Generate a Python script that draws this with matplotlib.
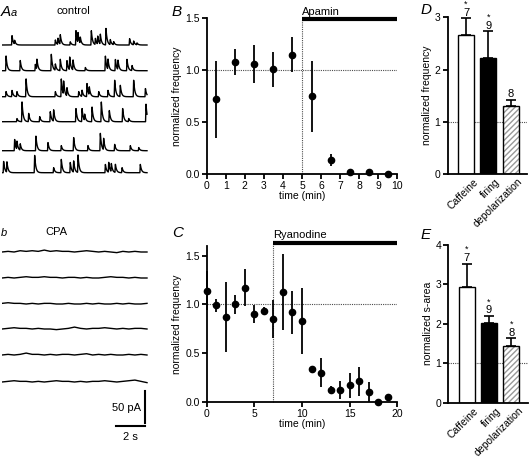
import numpy as np
import matplotlib
matplotlib.use("Agg")
import matplotlib.pyplot as plt
import matplotlib.transforms as mtransforms

plt.rcParams['font.family'] = ['Liberation Sans', 'DejaVu Sans']

# ---- data ----
# A a: spontaneous currents (control), spike times (s) and amplitudes (pA) per sweep
ctrl_times = [
    [0.69, 0.87, 3.68, 3.86, 4.02, 4.71, 5.10, 5.24, 5.40, 6.16, 6.44, 6.60, 6.78, 7.17, 7.47, 7.70, 8.80, 9.08, 9.31],
    [0.28, 1.26, 2.30, 2.41, 3.40, 3.68, 4.02, 4.48, 4.67, 4.90, 5.75, 7.13, 7.31, 7.82, 8.00, 8.62, 8.97],
    [0.28, 0.69, 1.03, 1.66, 3.68, 4.09, 4.25, 4.48, 5.29, 5.52, 5.86, 6.02, 6.67, 7.31, 7.77, 8.16, 9.08, 9.89],
    [1.03, 1.38, 1.84, 2.60, 3.33, 3.56, 5.10, 5.52, 5.70, 6.21, 6.85, 7.40, 8.32, 8.74, 9.93],
    [0.87, 1.03, 1.26, 2.34, 3.17, 4.09, 4.94, 5.93, 6.78, 7.01, 7.77, 8.85, 9.43],
    [0.11, 0.34, 2.25, 3.56, 4.09, 4.71, 4.94, 5.24, 7.13, 7.36, 7.54, 7.82, 8.28, 9.54],
]
ctrl_amps = [
    [15, 6, 8, 10, 15, 5, 23, 16, 10, 23, 10, 13, 16, 26, 8, 5, 10, 6, 3],
    [23, 16, 10, 16, 26, 10, 18, 16, 20, 16, 5, 23, 16, 18, 15, 18, 8],
    [8, 10, 8, 28, 8, 28, 21, 13, 8, 10, 21, 13, 8, 10, 26, 18, 26, 13],
    [5, 31, 13, 8, 16, 18, 21, 21, 10, 23, 31, 18, 21, 5, 28],
    [18, 13, 10, 23, 13, 8, 21, 8, 28, 18, 10, 8, 5],
    [18, 16, 28, 8, 21, 16, 18, 28, 13, 16, 13, 13, 8, 13],
]
# A b: CPA sweeps, small baseline deflections (pA)
cpa_sweeps = [
    [0, 1, 0, 2, 1, 2, 1, 3, 1, 2, 1, 1, 0, 1, 2, 1, 0, 1, 0, -1, 1, 0, 1, 0, 0],
    [0, 1, 0, 1, 2, 1, 1, 2, 1, 1, 0, 1, 1, 0, 1, 0, 0, 1, 2, 1, 1, 0, 1, 0, 0],
    [1, 2, 1, 1, 0, 1, 0, 1, 1, 0, 0, 1, 0, 0, 1, 0, 1, 0, 0, 1, 0, 1, 0, 0, 1],
    [0, 1, 2, 1, 1, 0, 1, 0, 0, -1, 0, 1, 3, 1, 0, 1, 1, 2, 1, 0, 1, 0, 1, 1, 0],
    [0, 1, 0, 1, 3, 1, 1, 0, 1, 0, 1, 1, 0, 1, 2, 0, 1, 0, 1, 0, 0, 1, 0, 1, 0],
    [0, 1, 2, 1, 1, 0, 1, 0, 1, 2, 1, 1, 0, 1, 0, 1, 1, 2, 1, 0, 1, 2, 3, 1, -1],
]

# B: apamin
b_time = [0.5, 1.5, 2.5, 3.5, 4.5, 5.5, 6.5, 7.5, 8.5, 9.5]
b_freq = [0.72, 1.08, 1.06, 1.01, 1.15, 0.75, 0.14, 0.02, 0.02, 0.0]
b_err = [0.37, 0.125, 0.18, 0.17, 0.17, 0.34, 0.06, 0.0, 0.0, 0.0]

# C: ryanodine
c_time = list(range(20))
c_freq = [1.14, 0.99, 0.87, 1.0, 1.17, 0.90, 0.93, 0.85, 1.13, 0.92,
          0.83, 0.34, 0.30, 0.12, 0.12, 0.17, 0.21, 0.10, 0.0, 0.045]
c_err = [0.2, 0.07, 0.36, 0.1, 0.19, 0.09, 0.04, 0.2, 0.39, 0.22,
         0.34, 0.0, 0.145, 0.045, 0.09, 0.13, 0.15, 0.1, 0.0, 0.03]

# D, E: bars
conds = ['Caffeine', 'firing', 'depolarization']
d_freq = [2.66, 2.23, 1.30]
d_err = [0.32, 0.50, 0.12]
d_n = ['7', '9', '8']
d_star = [True, True, False]
e_area = [2.94, 2.01, 1.44]
e_err = [0.59, 0.19, 0.19]
e_n = ['7', '9', '8']
e_star = [True, True, True]

W, H = 529, 457
fig = plt.figure(figsize=(W / 100, H / 100), dpi=100)


def fx(px):
    return px / W


def fy(py):
    return 1 - py / H


# ---- panel A traces ----
pa_per_px = 1.5625
axA = fig.add_axes([fx(2), 0, fx(10.5 * 14.5), 1])
axA.set_xlim(0, 10.5)
axA.set_ylim(0, H * pa_per_px)
axA.axis('off')

t = np.linspace(0, 10, 2500)
ctrl_base = [45, 70.7, 96.7, 121.7, 150.7, 172.7]
for base, times, amps in zip(ctrl_base, ctrl_times, ctrl_amps):
    y = np.zeros_like(t)
    for t0, a in zip(times, amps):
        rise = (t > t0 - 0.03) & (t < t0)
        y[rise] += a * (t[rise] - (t0 - 0.03)) / 0.03
        dec = t >= t0
        y[dec] += a * np.exp(-(t[dec] - t0) / 0.08)
    y0 = (H - base) * pa_per_px
    axA.plot(t, y0 + y, color='black', lw=1.0)

cpa_base = [252, 278, 304, 329, 355, 382]
for base, sweep in zip(cpa_base, cpa_sweeps):
    ts = np.linspace(0, 10, len(sweep))
    y0 = (H - base) * pa_per_px
    axA.plot(ts, y0 + np.array(sweep), color='black', lw=1.0)

# scale bars: 50 pA, 2 s
sx = 9.86
axA.plot([sx, sx], [(H - 423) * pa_per_px, (H - 423) * pa_per_px + 50], color='black', lw=1.5)
axA.plot([sx - 2, sx], [(H - 426) * pa_per_px] * 2, color='black', lw=1.5)

fig.text(fx(1), fy(12), 'A', fontsize=11, style='italic', va='center')
fig.text(fx(10.5), fy(13), 'a', fontsize=8, style='italic', va='center')
fig.text(fx(73), fy(11), 'control', fontsize=8, ha='center', va='center')
fig.text(fx(1), fy(233), 'b', fontsize=8, style='italic', va='center')
fig.text(fx(56), fy(232), 'CPA', fontsize=8, ha='center', va='center')
fig.text(fx(141), fy(408), '50 pA', fontsize=8, ha='right', va='center')
fig.text(fx(130), fy(437), '2 s', fontsize=8, ha='center', va='center')


def style_axes(ax):
    for s in ['top', 'right']:
        ax.spines[s].set_visible(False)
    for s in ['left', 'bottom']:
        ax.spines[s].set_linewidth(1.3)
    ax.tick_params(width=1.3, length=3.5, labelsize=7.5, pad=1.5)


# ---- panel B ----
axB = fig.add_axes([fx(206.7), fy(174.3), fx(190.6), 156 / H])
axB.axhline(1.0, color='0.3', lw=0.8, ls=(0, (1, 1)))
axB.plot([5, 5], [0, 1.49], color='0.3', lw=0.8, ls=(0, (1, 1)), clip_on=False)
axB.errorbar(b_time, b_freq, yerr=b_err, fmt='o', color='black', ms=4.5,
             elinewidth=1.3, capsize=0, clip_on=False)
axB.plot([5, 10], [1.49, 1.49], color='black', lw=3, clip_on=False, solid_capstyle='butt')
axB.set_xlim(0, 10)
axB.set_ylim(0, 1.5)
axB.set_xticks(range(11))
axB.set_yticks([0, 0.5, 1.0, 1.5])
axB.set_yticklabels(['0.0', '0.5', '1.0', '1.5'])
style_axes(axB)
axB.set_xlabel('time (min)', fontsize=7.5, labelpad=0)
axB.set_ylabel('normalized frequency', fontsize=7.5, labelpad=2)
fig.text(fx(172), fy(12), 'B', fontsize=11, style='italic', va='center')
fig.text(fx(302), fy(12), 'Apamin', fontsize=8, va='center')

# ---- panel C ----
axC = fig.add_axes([fx(206.7), fy(401.7), fx(190.6), 155.7 / H])
axC.axhline(1.0, color='0.3', lw=0.8, ls=(0, (1, 1)))
axC.plot([7, 7], [0, 1.627], color='0.3', lw=0.8, ls=(0, (1, 1)), clip_on=False)
axC.errorbar(c_time, c_freq, yerr=c_err, fmt='o', color='black', ms=4.5,
             elinewidth=1.3, capsize=0, clip_on=False)
axC.plot([7, 20], [1.627, 1.627], color='black', lw=3, clip_on=False, solid_capstyle='butt')
axC.set_xlim(0, 20)
axC.set_ylim(0, 1.6)
axC.set_xticks([0, 5, 10, 15, 20])
axC.set_yticks([0, 0.5, 1.0, 1.5])
axC.set_yticklabels(['0.0', '0.5', '1.0', '1.5'])
style_axes(axC)
axC.set_xlabel('time (min)', fontsize=7.5, labelpad=0)
axC.set_ylabel('normalized frequency', fontsize=7.5, labelpad=2)
fig.text(fx(172), fy(233), 'C', fontsize=11, style='italic', va='center')
fig.text(fx(273), fy(235), 'Ryanodine', fontsize=8, va='center')


# ---- panels D, E ----
def bar_panel(ax, vals, errs, ns, stars, top, ylabel):
    x = np.arange(len(vals))
    ax.axhline(1.0, color='0.3', lw=0.8, ls=(0, (1, 1)), zorder=0)
    ax.bar(x[:2], vals[:2], width=0.72, color=['white', 'black'],
           edgecolor='black', lw=1.0, zorder=2)
    ax.bar(x[2], vals[2], width=0.72, color='white', hatch='//////',
           edgecolor='0.6', lw=0, zorder=2)
    ax.bar(x[2], vals[2], width=0.72, fill=False, edgecolor='black', lw=1.0, zorder=3)
    ax.errorbar(x, vals, yerr=[np.zeros(len(vals)), errs], fmt='none',
                ecolor='black', elinewidth=1.2, capsize=3.5, capthick=1.2, zorder=1)
    for xi, v, e, n, s in zip(x, vals, errs, ns, stars):
        ax.annotate(n, (xi, v + e), xytext=(0, 0.5), textcoords='offset points',
                    ha='center', va='bottom', fontsize=8)
        if s:
            ax.annotate('*', (xi, v + e), xytext=(0, 7), textcoords='offset points',
                        ha='center', va='bottom', fontsize=6.5)
    ax.set_xlim(-0.83, 2.74)
    ax.set_ylim(0, top)
    ax.set_yticks(range(top + 1))
    ax.set_xticks(x)
    ax.set_xticklabels(conds, rotation=45, ha='right', rotation_mode='anchor')
    style_axes(ax)
    ax.tick_params(axis='x', length=0, pad=2, labelsize=7.5)
    shift = mtransforms.ScaledTranslation(5 / 72, 0, fig.dpi_scale_trans)
    for lab in ax.get_xticklabels():
        lab.set_transform(lab.get_transform() + shift)
    ax.set_ylabel(ylabel, fontsize=7.5, labelpad=2)


axD = fig.add_axes([fx(447.5), fy(174), fx(79.5), 156.7 / H])
bar_panel(axD, d_freq, d_err, d_n, d_star, 3, 'normalized frequency')
fig.text(fx(421), fy(10), 'D', fontsize=11, style='italic', va='center')

axE = fig.add_axes([fx(448.3), fy(402.7), fx(79.5), 157.7 / H])
bar_panel(axE, e_area, e_err, e_n, e_star, 4, 'normalized s-area')
fig.text(fx(421), fy(235), 'E', fontsize=11, style='italic', va='center')

fig.savefig('out.png', dpi=100)
